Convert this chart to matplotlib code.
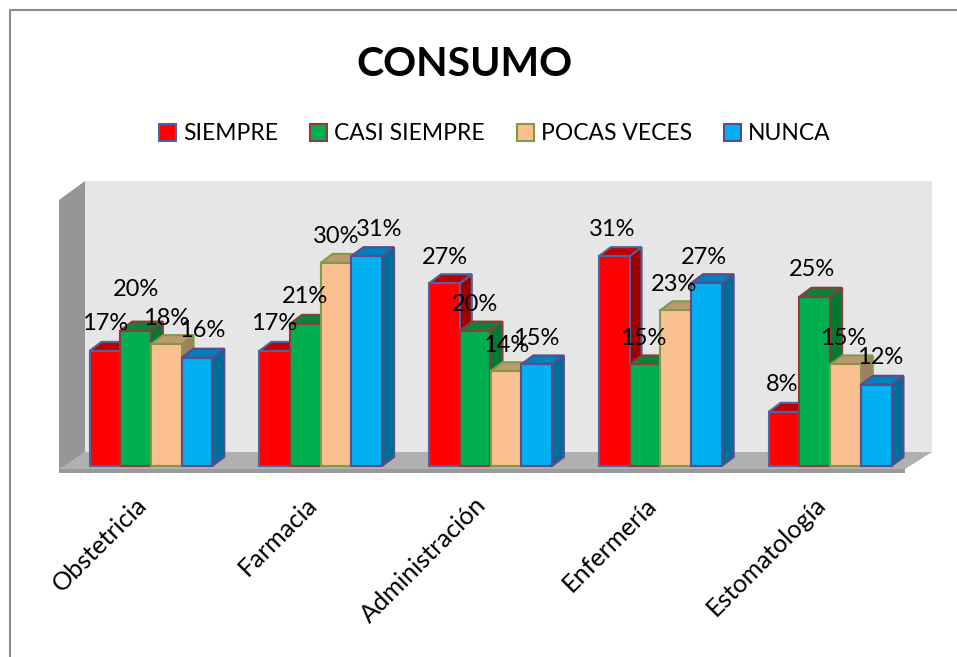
import matplotlib
matplotlib.use("Agg")
import matplotlib.pyplot as plt
from matplotlib.patches import Polygon, Patch
from matplotlib.lines import Line2D
from matplotlib.transforms import Affine2D, ScaledTranslation

categories = ["Obstetricia", "Farmacia", "Administración", "Enfermería", "Estomatología"]
series_names = ["SIEMPRE", "CASI SIEMPRE", "POCAS VECES", "NUNCA"]
siempre = [17, 17, 27, 31, 8]
casi_siempre = [20, 21, 20, 15, 25]
pocas_veces = [18, 30, 14, 23, 15]
nunca = [16, 31, 15, 27, 12]
series_values = [siempre, casi_siempre, pocas_veces, nunca]

face = ["#FF0000", "#00B050", "#FAC090", "#00B0F0"]
top = ["#C00000", "#0A8438", "#BC9870", "#0080BC"]
side = ["#A00000", "#007A33", "#A08060", "#006C9A"]
edge = ["#4A66A0", "#8C3C3C", "#7F9A48", "#5F4A8B"]

# label nudges in pixels (x, y above the bar top), series by category
label_dx = [[0, 0, 0, 5], [-1, 0, 0, 12], [0, 0, 0, 0], [-2, -2, -2, -2], [-2, -3, -2, 4]]
label_dy = [[27, 41, 26, 27], [27, 27, 26, 27], [26, 26, 26, 26], [27, 26, 26, 26], [27, 27, 26, 27]]

W, H = 957, 657
fig = plt.figure(figsize=(W / 100, H / 100), dpi=100, facecolor="white")
plt.rcParams["font.family"] = ["Lato", "DejaVu Sans"]

# front plane of the plot: x 59..908 px, y baseline 466 px
PX_PER_PCT = 6.77
PLOT_L, PLOT_R, BASE = 59, 908, 466
AX_TOP, AX_BOT = 181, 472
ax = fig.add_axes([PLOT_L / W, 1 - AX_BOT / H, (PLOT_R - PLOT_L) / W, (AX_BOT - AX_TOP) / H])
ax.set_xlim(-0.5, 4.5)
ax.set_ylim(-(AX_BOT - BASE) / PX_PER_PCT, (BASE - AX_TOP) / PX_PER_PCT)
ax.patch.set_visible(False)
for s in ax.spines.values():
    s.set_visible(False)

px_x = 5.0 / (PLOT_R - PLOT_L)      # data units per pixel, x
px_y = 1.0 / PX_PER_PCT             # data units per pixel, y

# page pixel transform for the chart box and the 3D walls
page = Affine2D().scale(1, -1).translate(0, H)


def deco(pts, fc, ec="none", lw=0, z=0):
    fig.add_artist(Polygon(pts, closed=True, facecolor=fc, edgecolor=ec, linewidth=lw,
                           transform=page, zorder=z))


# chart box: only its top and left sides fall inside the picture
fig.add_artist(Line2D([9.5, 9.5, W], [H, 9.5, 9.5], transform=page, color="#8C8C8C",
                      linewidth=1.5, zorder=-5))
deco([(85, 181), (932, 181), (932, 452), (85, 452)], "#E6E6E6", z=-4)
deco([(59, 200), (85, 181), (85, 452), (59, 472)], "#969696", z=-4)
deco([(59, 469), (85, 452), (932, 452), (905, 469)], "#B0B0B0", z=-4)
deco([(59, 469), (905, 469), (905, 473), (59, 473)], "#9A9A9A", z=-4)

bar_w = 30.7 * px_x
depth_x, depth_y = 12 * px_x, 9 * px_y
shift = 7 * px_x
z = 3
for c in range(len(categories)):
    for s in range(len(series_names)):
        v = series_values[s][c]
        left = c + shift + (s - 2) * bar_w
        right = left + bar_w
        lw = 1.5
        ax.add_patch(Polygon([(right, 0), (right + depth_x, depth_y), (right + depth_x, v + depth_y), (right, v)],
                             facecolor=side[s], edgecolor=edge[s], linewidth=lw, zorder=z, clip_on=False))
        ax.add_patch(Polygon([(left, v), (left + depth_x, v + depth_y), (right + depth_x, v + depth_y), (right, v)],
                             facecolor=top[s], edgecolor=edge[s], linewidth=lw, zorder=z, clip_on=False))
        ax.bar(left, v, width=bar_w, align="edge", color=face[s], edgecolor=edge[s],
               linewidth=lw, zorder=z + 0.5, clip_on=False)
        z += 1

for c in range(len(categories)):
    for s in range(len(series_names)):
        v = series_values[s][c]
        x = c + shift + (s - 1.5) * bar_w + label_dx[c][s] * px_x
        ax.text(x, v + label_dy[c][s] * px_y, f"{v}%", ha="center", va="center",
                fontsize=17, color="black", zorder=100, clip_on=False)

ax.set_xticks(range(len(categories)))
ax.set_xticklabels(categories, rotation=45, ha="right", rotation_mode="anchor", fontsize=18.2, color="black")
ax.tick_params(axis="x", length=0, pad=15)
ax.set_yticks([])
tick_shift = ScaledTranslation(-9 / 100, 0, fig.dpi_scale_trans)
for lab in ax.get_xticklabels():
    lab.set_transform(lab.get_transform() + tick_shift)

fig.text(464 / W, 1 - 64 / H, "CONSUMO", ha="center", va="center", fontsize=29.5, fontweight="bold", color="black")

handles = [Patch(facecolor=f, edgecolor=e, linewidth=1.5) for f, e in zip(face, edge)]
fig.legend(handles, series_names, loc="center", bbox_to_anchor=(495 / W, 1 - 134 / H), ncol=4, frameon=False,
           fontsize=16.5, handlelength=0.75, handleheight=0.75, handletextpad=0.3, columnspacing=1.4)

fig.savefig("out.png", dpi=100, facecolor="white")
